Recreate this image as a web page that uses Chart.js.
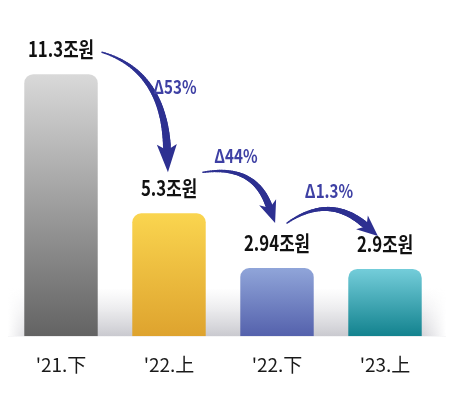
<!DOCTYPE html>
<html>
<head>
<meta charset="utf-8">
<script src="https://cdn.jsdelivr.net/npm/chart.js@4"></script>
<style>
  html, body { margin: 0; padding: 0; background: #fff; }
  canvas { display: block; }
</style>
</head>
<body>
<canvas id="chart" width="453" height="394"></canvas>
<script>
const periods = ["'21.下", "'22.上", "'22.下", "'23.上"];
const amounts = [11.3, 5.3, 2.94, 2.9];
const amountLabels = ["11.3조원", "5.3조원", "2.94조원", "2.9조원"];
const changeLabels = ["Δ53%", "Δ44%", "Δ1.3%"];

const topColors = ["#d9d9d9", "#fad54f", "#90a5d9", "#74cdda"];
const bottomColors = ["#636363", "#dea32e", "#5461ac", "#12828e"];

const family = "'Noto Sans CJK KR', 'Noto Sans', sans-serif";

const ctx = document.getElementById("chart").getContext('2d');

function barGradient(context) {
    const chart = context.chart;
    const area = chart.chartArea;
    const yScale = chart.scales.y;
    if (!area || !yScale) return topColors[context.dataIndex];
    const top = yScale.getPixelForValue(amounts[context.dataIndex]);
    if (!isFinite(top) || !isFinite(area.bottom)) return topColors[context.dataIndex];
    const g = chart.ctx.createLinearGradient(0, top, 0, area.bottom);
    g.addColorStop(0, topColors[context.dataIndex]);
    g.addColorStop(1, bottomColors[context.dataIndex]);
    return g;
}

// light gray floor behind the bars
const floorPlugin = {
    id: 'floor',
    beforeDatasetsDraw(chart) {
        const c = chart.ctx;
        const area = chart.chartArea;
        const y0 = area.bottom - 48;
        const left = area.left + 1, right = area.right + 7;
        c.save();
        const g = c.createLinearGradient(0, y0, 0, area.bottom);
        g.addColorStop(0, "rgba(215,215,220,0)");
        g.addColorStop(1, "rgba(198,198,204,0.95)");
        c.fillStyle = g;
        c.fillRect(left, y0, right - left, area.bottom - y0);
        const side = c.createLinearGradient(left, 0, left + 30, 0);
        side.addColorStop(0, "rgba(255,255,255,1)");
        side.addColorStop(1, "rgba(255,255,255,0)");
        c.fillStyle = side;
        c.fillRect(left, y0, 30, area.bottom - y0);
        const side2 = c.createLinearGradient(right, 0, right - 30, 0);
        side2.addColorStop(0, "rgba(255,255,255,1)");
        side2.addColorStop(1, "rgba(255,255,255,0)");
        c.fillStyle = side2;
        c.fillRect(right - 30, y0, 30, area.bottom - y0);
        c.restore();
    }
};

function drawArrow(c, p0, p1, p2, w0, w1, head, half) {
    const n = 40;
    const pt = t => ({
        x: (1 - t) * (1 - t) * p0.x + 2 * (1 - t) * t * p1.x + t * t * p2.x,
        y: (1 - t) * (1 - t) * p0.y + 2 * (1 - t) * t * p1.y + t * t * p2.y
    });
    c.lineCap = "round";
    for (let i = 0; i < n; i++) {
        const a = pt(i / n), b = pt((i + 1) / n);
        c.lineWidth = w0 + (w1 - w0) * i / n;
        c.beginPath();
        c.moveTo(a.x, a.y);
        c.lineTo(b.x, b.y);
        c.stroke();
    }
    // arrow head
    const ang = Math.atan2(p2.y - p1.y, p2.x - p1.x);
    const tip = { x: p2.x + Math.cos(ang) * head, y: p2.y + Math.sin(ang) * head };
    const bx = p2.x - Math.cos(ang) * 4, by = p2.y - Math.sin(ang) * 4;
    const px = -Math.sin(ang), py = Math.cos(ang);
    c.beginPath();
    c.moveTo(tip.x, tip.y);
    c.lineTo(bx + px * half, by + py * half);
    c.lineTo(p2.x + Math.cos(ang) * 2, p2.y + Math.sin(ang) * 2);
    c.lineTo(bx - px * half, by - py * half);
    c.closePath();
    c.fill();
}

// condensed look: squeeze text horizontally
function narrowText(c, text, x, y, sx) {
    c.save();
    c.translate(x, y);
    c.scale(sx, 1);
    c.fillText(text, 0, 0);
    c.restore();
}

const labelPlugin = {
    id: 'labels',
    afterDatasetsDraw(chart) {
        const c = chart.ctx;
        const bars = chart.getDatasetMeta(0).data;
        c.save();
        c.textAlign = "center";
        c.textBaseline = "middle";
        c.fillStyle = "#111";
        c.font = "bold 21px " + family;
        bars.forEach((b, i) => {
            narrowText(c, amountLabels[i], b.x, b.y - 25, 0.8);
        });

        c.fillStyle = "#2d3091";
        c.strokeStyle = "#2d3091";
        const b0 = bars[0], b1 = bars[1], b2 = bars[2], b3 = bars[3];
        drawArrow(c, { x: b0.x + 41, y: b0.y - 22 }, { x: b1.x - 5, y: b0.y - 3 }, { x: b1.x - 2, y: b1.y - 65 }, 1.5, 8, 24, 10);
        drawArrow(c, { x: b1.x + 34, y: b1.y - 41 }, { x: b2.x - 23, y: b1.y - 49 }, { x: b2.x - 8, y: b2.y - 62 }, 1.5, 7, 18, 9);
        drawArrow(c, { x: b2.x + 10, y: b2.y - 45 }, { x: b3.x - 56, y: b3.y - 75 }, { x: b3.x - 20, y: b3.y - 44 }, 1.5, 7, 17, 9);

        c.fillStyle = "#3e40a4";
        c.font = "bold 19px " + family;
        narrowText(c, changeLabels[0], b1.x + 6, b0.y + 13, 0.8);
        narrowText(c, changeLabels[1], (b1.x + b2.x) / 2 + 13, b1.y - 58, 0.8);
        narrowText(c, changeLabels[2], (b2.x + b3.x) / 2 - 2, b2.y - 77, 0.8);
        c.restore();
    }
};

new Chart(ctx, {
    type: 'bar',
    data: {
        labels: periods,
        datasets: [{
            data: amounts,
            backgroundColor: barGradient,
            borderRadius: { topLeft: 9, topRight: 9, bottomLeft: 0, bottomRight: 0 },
            borderSkipped: false,
            barPercentage: 0.68,
            categoryPercentage: 1
        }]
    },
    options: {
        responsive: false,
        animation: false,
        layout: { padding: { left: 7, right: 14, top: 0, bottom: 1 } },
        plugins: {
            legend: { display: false },
            tooltip: { enabled: false }
        },
        scales: {
            x: {
                grid: { display: false, drawTicks: false },
                border: { display: false },
                ticks: {
                    color: "#1a1a1a",
                    padding: 17,
                    font: { size: 19, family: family }
                }
            },
            y: {
                display: false,
                min: 0,
                max: 14.5
            }
        }
    },
    plugins: [floorPlugin, labelPlugin]
});
</script>
</body>
</html>
